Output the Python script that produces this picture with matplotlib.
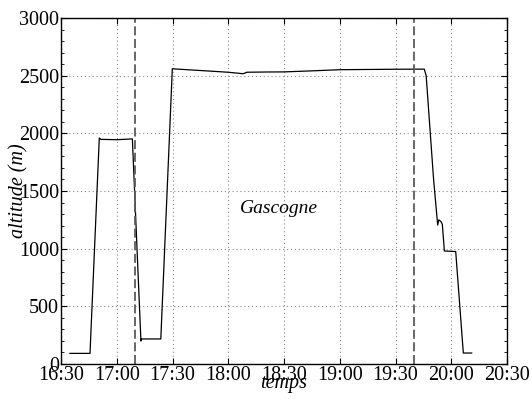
import pandas as pd
import matplotlib
matplotlib.use("Agg")
import matplotlib.pyplot as plt
import matplotlib.dates as mdates
from matplotlib.ticker import MultipleLocator

# Profil d'altitude
heures = [
    "16:34:48", "16:45:36", "16:50:36", "16:51:30", "17:00:00", "17:08:24",
    "17:13:00", "17:13:24", "17:23:42", "17:29:54", "17:45:00", "18:00:00",
    "18:05:00", "18:08:00", "18:10:00", "18:20:00", "18:30:00", "18:45:00",
    "19:00:00", "19:15:00", "19:30:00", "19:45:30", "19:46:30", "19:50:30",
    "19:52:42", "19:53:18", "19:54:30", "19:55:12", "19:56:18", "20:02:24",
    "20:06:30", "20:11:00",
]
altitude = [
    92, 92, 1960, 1948, 1945, 1952,
    199, 217, 217, 2560, 2545, 2530,
    2522, 2517, 2530, 2532, 2533, 2542,
    2552, 2554, 2556, 2557, 2500, 1600,
    1205, 1250, 1234, 1211, 980, 975,
    95, 95,
]
limites = ["17:10:00", "19:40:00"]
ticks_x = ["16:30", "17:00", "17:30", "18:00", "18:30", "19:00", "19:30", "20:00", "20:30"]

jour = "2000-01-01 "
t = pd.to_datetime([jour + h for h in heures])
t_lim = pd.to_datetime([jour + h for h in limites])
t_ticks = pd.to_datetime([jour + h for h in ticks_x])

plt.rcParams["font.family"] = ["Liberation Serif", "DejaVu Serif"]
plt.rcParams["font.size"] = 14.5

fig = plt.figure(figsize=(5.32, 4.01), dpi=100)
ax = fig.add_axes([0.1147, 0.0923, 0.8383, 0.8627])

ax.plot(t, altitude, color="black", lw=0.9)
for tl in t_lim:
    ax.axvline(tl, color="#5a5a5a", lw=1.3, linestyle=(0, (5, 2)))

ax.set_xlim(t_ticks[0], t_ticks[-1])
ax.set_ylim(0, 3000)
ax.set_xticks(t_ticks)
ax.xaxis.set_major_formatter(mdates.DateFormatter("%H:%M"))
ax.yaxis.set_major_locator(MultipleLocator(500))
ax.yaxis.set_minor_locator(MultipleLocator(100))

ax.grid(True, which="major", color="#8a8a8a", lw=0.8, linestyle=(0, (1, 2.5)))
ax.tick_params(which="both", direction="in", top=True, right=True, pad=1.5)
ax.tick_params(which="major", length=4)
ax.tick_params(which="minor", length=2.5)
for s in ax.spines.values():
    s.set_linewidth(1.0)

ax.set_xlabel("temps", style="italic", labelpad=-8)
ax.set_ylabel("altitude (m)", style="italic", labelpad=-7)
ax.text(pd.Timestamp(jour + "18:27:00"), 1350, "Gascogne",
        style="italic", ha="center", va="center", fontsize=14)

fig.savefig("out.png", dpi=100)
